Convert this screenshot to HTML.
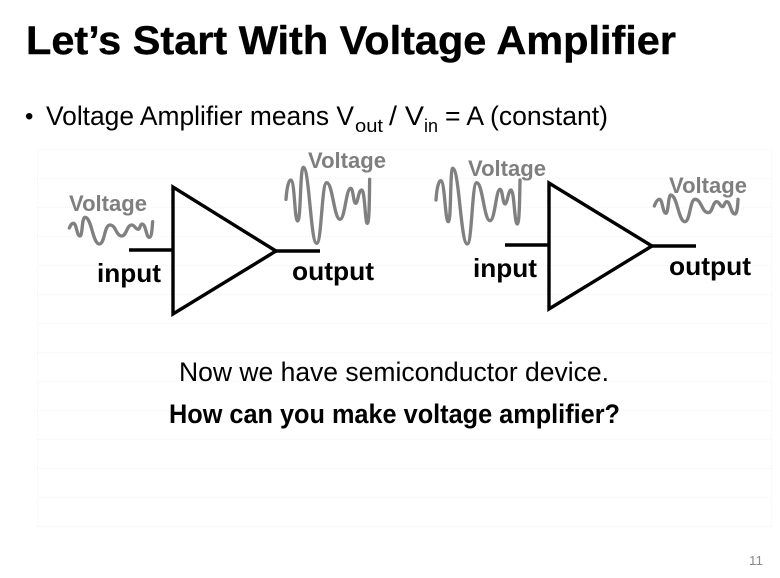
<!DOCTYPE html>
<html>
<head>
<meta charset="utf-8">
<style>
html,body{margin:0;padding:0;background:#fff;width:780px;height:578px;overflow:hidden}
svg{display:block}
text{font-family:"Liberation Sans",sans-serif;fill:#000}
.b{font-size:27px;}
.lab{font-size:26px;font-weight:bold}
.v{font-size:22px;font-weight:bold;fill:#7f7f7f}
.grid line{stroke:#f4f4f4;stroke-width:1;stroke-dasharray:1 1}
.wave{fill:none;stroke:#808080;stroke-linecap:round;stroke-linejoin:round}
</style>
</head>
<body>
<svg width="780" height="578" viewBox="0 0 780 578" xmlns="http://www.w3.org/2000/svg">
<g class="grid">
<line x1="37" x2="772" y1="149.500" y2="149.500"/>
<line x1="37" x2="772" y1="178.500" y2="178.500"/>
<line x1="37" x2="772" y1="207.500" y2="207.500"/>
<line x1="37" x2="772" y1="236.500" y2="236.500"/>
<line x1="37" x2="772" y1="265.500" y2="265.500"/>
<line x1="37" x2="772" y1="294.500" y2="294.500"/>
<line x1="37" x2="772" y1="323.500" y2="323.500"/>
<line x1="37" x2="772" y1="352.500" y2="352.500"/>
<line x1="37" x2="772" y1="381.500" y2="381.500"/>
<line x1="37" x2="772" y1="410.500" y2="410.500"/>
<line x1="37" x2="772" y1="439.500" y2="439.500"/>
<line x1="37" x2="772" y1="468.500" y2="468.500"/>
<line x1="37" x2="772" y1="497.500" y2="497.500"/>
<line x1="37" x2="772" y1="526.500" y2="526.500"/>
<line x1="37.500" x2="37.500" y1="149" y2="526"/>
<line x1="771.500" x2="771.500" y1="149" y2="526"/>
</g>

<text x="26" y="54" font-size="40" font-weight="bold" stroke="#000" stroke-width=".4" textLength="650" lengthAdjust="spacingAndGlyphs">Let’s Start With Voltage Amplifier</text>

<text x="25" y="124" font-size="24">•</text>
<text x="46" y="125" class="b" textLength="308" lengthAdjust="spacingAndGlyphs">Voltage Amplifier means V</text>
<text x="355" y="132" font-size="18" textLength="28" lengthAdjust="spacingAndGlyphs">out</text>
<text x="389" y="125" class="b" textLength="35" lengthAdjust="spacingAndGlyphs">/ V</text>
<text x="424" y="132" font-size="18" textLength="14" lengthAdjust="spacingAndGlyphs">in</text>
<text x="445" y="125" class="b" textLength="163" lengthAdjust="spacingAndGlyphs">= A (constant)</text>

<!-- left amplifier -->
<polygon points="173,187 173,314 276,251" fill="none" stroke="#000" stroke-width="3.400"/>
<line x1="129" x2="173" y1="250" y2="250" stroke="#000" stroke-width="3.400"/>
<line x1="276" x2="320" y1="251" y2="251" stroke="#000" stroke-width="3.400"/>
<!-- right amplifier -->
<polygon points="549,183 549,309 652,246" fill="none" stroke="#000" stroke-width="3.400"/>
<line x1="505" x2="549" y1="245" y2="245" stroke="#000" stroke-width="3.400"/>
<line x1="652" x2="696" y1="246" y2="246" stroke="#000" stroke-width="3.400"/>

<!-- waves -->
<g transform="translate(30,140) scale(.33333)">
<path class="wave" stroke-width="10" d="M118 264 C122 255 125 250 130 250 C140 250 140 288 150 288 C158 288 155 232 165 232 C185 232 188 312 208 312 C225 312 222 255 240 255 C258 255 258 288 275 288 C290 288 290 255 305 255 C315 255 315 268 325 268 C330 268 330 252 336 252 C348 252 348 292 358 292 C365 292 366 270 368 245"/>
<path class="wave" stroke-width="10" d="M768 178 C770 150 775 120 782 120 C795 120 793 243 803 243 C813 243 810 82 820 82 C838 82 842 310 860 310 C875 310 875 128 890 128 C908 128 912 238 930 238 C945 238 948 145 962 145 C970 145 970 190 977 190 C984 190 985 150 995 150 C1005 150 1005 250 1012 250 C1018 250 1018 180 1019 118"/>
</g>
<g transform="translate(410,140) scale(.33333)">
<path class="wave" stroke-width="10" d="M78 180 C80 150 85 122 92 122 C105 122 105 245 115 245 C124 245 120 85 128 85 C148 85 152 312 172 312 C186 312 186 128 200 128 C218 128 222 242 240 242 C255 242 258 148 270 148 C278 148 278 192 285 192 C292 192 295 150 303 150 C313 150 313 252 322 252 C328 252 329 180 330 120"/>
<path class="wave" stroke-width="10" d="M733 198 C737 188 742 178 748 178 C758 178 758 220 768 220 C775 220 775 165 782 165 C802 165 805 245 825 245 C840 245 840 178 855 178 C875 178 875 218 895 218 C908 218 908 185 920 185 C929 185 929 200 938 200 C943 200 943 185 950 185 C962 185 962 222 975 222 C981 222 983 200 984 178"/>
</g>

<!-- labels -->
<text x="69" y="211" class="v" textLength="78" lengthAdjust="spacingAndGlyphs">Voltage</text>
<text x="308" y="168" class="v" textLength="78" lengthAdjust="spacingAndGlyphs">Voltage</text>
<text x="468" y="176" class="v" textLength="78" lengthAdjust="spacingAndGlyphs">Voltage</text>
<text x="669" y="193" class="v" textLength="78" lengthAdjust="spacingAndGlyphs">Voltage</text>

<text x="97" y="282" class="lab" textLength="64" lengthAdjust="spacingAndGlyphs">input</text>
<text x="292" y="280" class="lab" textLength="82" lengthAdjust="spacingAndGlyphs">output</text>
<text x="473" y="277" class="lab" textLength="64" lengthAdjust="spacingAndGlyphs">input</text>
<text x="669" y="275" class="lab" textLength="82" lengthAdjust="spacingAndGlyphs">output</text>

<text x="179" y="381" class="b" textLength="430" lengthAdjust="spacingAndGlyphs">Now we have semiconductor device.</text>
<text x="169" y="423" class="b" font-weight="bold" textLength="451" lengthAdjust="spacingAndGlyphs">How can you make voltage amplifier?</text>

<text x="749" y="565" font-size="13" style="fill:#8a8a8a" textLength="14" lengthAdjust="spacingAndGlyphs">11</text>
</svg>
</body>
</html>
